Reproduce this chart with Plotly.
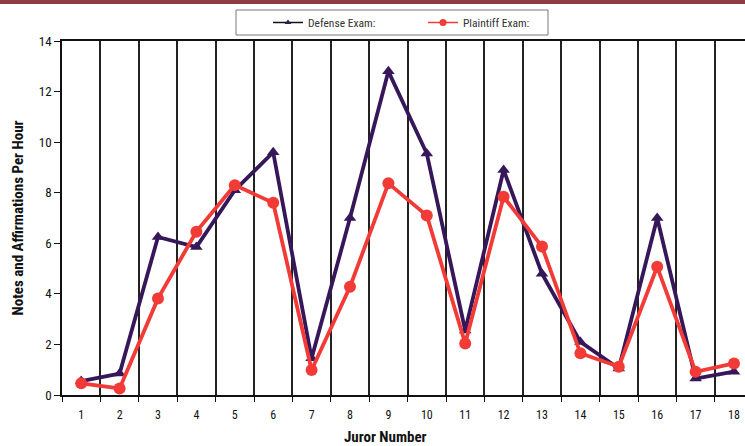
import plotly.graph_objects as go

# Juror-level rates of notes and affirmations per hour
jurors = list(range(1, 19))
defense_exam = [0.55, 0.85, 6.25, 5.85, 8.1, 9.6, 1.45, 7.0, 12.8,
                9.55, 2.55, 8.9, 4.8, 2.1, 1.05, 7.0, 0.65, 0.92]
plaintiff_exam = [0.46, 0.26, 3.82, 6.46, 8.3, 7.6, 0.99, 4.28, 8.37,
                  7.1, 2.04, 7.84, 5.87, 1.65, 1.12, 5.07, 0.92, 1.25]
tick_labels = [str(j) for j in jurors]

W, H = 745, 446
ML, MR, MT, MB = 62, 0, 41, 51
PW, PH = W - ML - MR, H - MT - MB


def px_x(p):
    """pixel column -> paper x"""
    return (p - ML) / PW


def px_y(p):
    """pixel row -> paper y"""
    return 1 - (p - MT) / PH


NARROW = "Liberation Sans Narrow, Arial Narrow, Roboto Condensed, Roboto, sans-serif"
DEF_COLOR = "#36175a"
PLA_COLOR = "#f23a36"

series = [
    ("Defense Exam:", defense_exam, DEF_COLOR, "triangle-up", 11, 6),
    ("Plaintiff Exam:", plaintiff_exam, PLA_COLOR, "circle", 12, 7),
]

fig = go.Figure()
for name, vals, color, sym, size, legend_size in series:
    # plotted series
    fig.add_trace(go.Scatter(
        x=jurors, y=vals, name=name, legendgroup=name, showlegend=False,
        mode="lines+markers",
        line=dict(color=color, width=3.8),
        marker=dict(symbol=sym, size=size, color=color),
    ))
    # compact legend key for the same series
    fig.add_trace(go.Scatter(
        x=[None], y=[None], name=name, legendgroup=name, showlegend=True,
        mode="lines+markers",
        line=dict(color=color if color != DEF_COLOR else "#111111", width=1.5),
        marker=dict(symbol=sym, size=legend_size, color=color),
    ))

# thin maroon rule across the top of the page
fig.add_shape(
    type="rect", xref="paper", yref="paper",
    x0=px_x(-1), x1=px_x(W + 1), y0=px_y(4), y1=px_y(-1),
    fillcolor="#8c3b42", line=dict(width=0), layer="above",
)
# legend frame
fig.add_shape(
    type="rect", xref="paper", yref="paper",
    x0=px_x(236), x1=px_x(548), y0=px_y(35), y1=px_y(10),
    fillcolor="white", line=dict(color="#777777", width=1), layer="above",
)

fig.update_layout(
    width=W, height=H,
    margin=dict(l=ML, r=MR, t=MT, b=MB, pad=0),
    paper_bgcolor="white", plot_bgcolor="white",
    font=dict(family=NARROW, color="#111111"),
    showlegend=True,
    legend=dict(
        orientation="h", xref="paper", yref="paper",
        x=px_x(268), y=px_y(8),
        xanchor="left", yanchor="top",
        bgcolor="rgba(0,0,0,0)", borderwidth=0,
        font=dict(family=NARROW, size=11.5, color="#333333"),
        entrywidth=110, entrywidthmode="pixels",
        tracegroupgap=0, itemclick=False, itemdoubleclick=False,
    ),
    xaxis=dict(
        range=[0.5, 0.5 + PW / 38.4],
        tickmode="array", tickvals=jurors, ticktext=tick_labels,
        ticks="", showgrid=False, zeroline=False,
        showline=True, linecolor="#111111", linewidth=1.5, mirror=True,
        tickfont=dict(family=NARROW, size=12, color="#111111"),
        ticklabelstandoff=8,
        minor=dict(tick0=0.5, dtick=1, showgrid=True, gridcolor="#222222",
                   gridwidth=1.5, ticks="outside", ticklen=5,
                   tickcolor="#111111", tickwidth=1),
    ),
    yaxis=dict(
        range=[0, 14], dtick=2, tick0=0,
        ticks="outside", ticklen=6, tickcolor="#111111",
        showgrid=False, zeroline=False,
        showline=True, linecolor="#111111", linewidth=1.5,
        tickfont=dict(family=NARROW, size=13, color="#111111"),
        title=dict(text="<b>Notes and Affirmations Per Hour</b>",
                   font=dict(family=NARROW, size=15, color="#111111"),
                   standoff=12),
    ),
)

fig.add_annotation(
    text="<b>Juror Number</b>", xref="paper", yref="paper",
    x=px_x(385), y=px_y(437),
    xanchor="center", yanchor="middle", showarrow=False,
    font=dict(family=NARROW, size=15, color="#111111"),
)

fig.write_html("out.html")
